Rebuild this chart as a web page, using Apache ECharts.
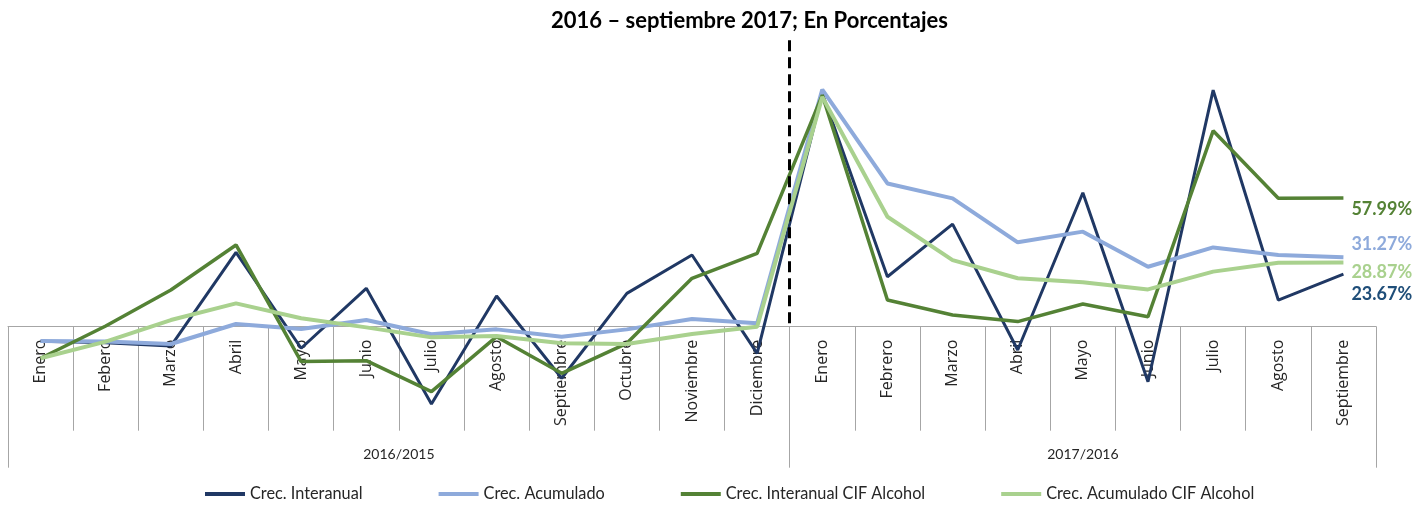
<!DOCTYPE html>
<html>
<head>
<meta charset="utf-8">
<script src="https://cdn.jsdelivr.net/npm/echarts@6/dist/echarts.min.js"></script>
<style>html,body{margin:0;padding:0;background:#fff}#c{width:1428px;height:510px}</style>
</head>
<body>
<div id="c"></div>
<script>
const titleText = '2016 \u2013 septiembre 2017; En Porcentajes';
const months = ['Enero','Febero','Marzo','Abril','Mayo','Junio','Julio','Agosto','Septiembre','Octubre','Noviembre','Diciembre',
                'Enero','Febrero','Marzo','Abril','Mayo','Junio','Julio','Agosto','Septiembre'];
const groups = ['2016/2015','2017/2016'];
const groupSizes = [12, 9];
const seriesNames = ['Crec. Interanual','Crec. Acumulado','Crec. Interanual CIF Alcohol','Crec. Acumulado CIF Alcohol'];

const interanual    = [-6.6,-7.2,-8.7,33.5,-9.7,17.3,-34.8,13.8,-23.2,15.0,32.3,-12.0, 105.0,22.5,46.2,-10.5,60.3,-24.8,106.5,12.0,23.67];
const acumulado     = [-6.4,-6.7,-7.8,1.2,-1.0,3.0,-3.4,-1.2,-4.5,-1.2,3.5,1.5, 106.8,64.5,57.8,38.0,42.8,27.0,35.7,32.3,31.27];
const interanualCIF = [-14.2,0.3,16.5,36.8,-15.7,-15.3,-29.2,-4.5,-21.0,-7.5,21.8,33.0, 104.3,12.0,5.3,2.3,10.2,4.5,88.2,57.8,57.99];
const acumuladoCIF  = [-14.2,-6.7,3.0,10.5,3.8,-0.3,-4.8,-4.2,-7.5,-7.8,-3.3,0.0, 103.5,49.5,30.0,21.8,20.0,16.8,24.8,28.8,28.87];

const lineColors  = ['#203864','#8eaadb','#548235','#a9d18e'];
const labelColors = ['#1f4e79','#8eaadb','#548235','#a9d18e'];
const lineWidths  = [3, 4, 3.5, 4];
const labelDy     = [20, -13, 11, 10];

// group boundaries and centres on a 0..N value scale
const bounds = [0];
groupSizes.forEach(s => bounds.push(bounds[bounds.length - 1] + s));
const centres = groupSizes.map((s, i) => bounds[i] + s / 2);
const sepAt = bounds[1];

const data = [interanual, acumulado, interanualCIF, acumuladoCIF];

const chart = echarts.init(document.getElementById('c'), null, {renderer: 'canvas'});
const series = data.map((d, i) => ({
  name: seriesNames[i],
  type: 'line',
  data: d,
  symbol: 'none',
  showSymbol: false,
  clip: false,
  z: 2 + i,
  lineStyle: {color: lineColors[i], width: lineWidths[i]},
  itemStyle: {color: lineColors[i]},
  endLabel: {
    show: true,
    distance: 8,
    offset: [0, labelDy[i]],
    formatter: p => Number(p.value).toFixed(2) + '%',
    color: labelColors[i],
    fontFamily: 'Lato',
    fontWeight: 'bold',
    fontSize: 18
  }
}));
series.push({
  name: 'sep',
  type: 'line',
  xAxisIndex: 1,
  data: [],
  silent: true,
  z: 10,
  markLine: {
    silent: true,
    symbol: ['none', 'none'],
    label: {show: false},
    lineStyle: {color: '#000', type: [11, 6], width: 3},
    data: [[{coord: [sepAt, 129]}, {coord: [sepAt, 0]}]]
  }
});

chart.setOption({
  animation: false,
  backgroundColor: '#fff',
  title: {
    text: titleText,
    left: 546,
    top: 5,
    textStyle: {fontFamily: 'Lato', fontWeight: 'bold', fontSize: 22, color: '#000'}
  },
  legend: {
    data: seriesNames,
    left: 205,
    top: 486,
    padding: 0,
    icon: 'rect',
    itemWidth: 40,
    itemHeight: 4,
    itemGap: 76,
    textStyle: {fontFamily: 'Lato', fontSize: 16.3, color: '#262626'}
  },
  grid: {left: 8, top: 38, width: 1368, height: 288.7, containLabel: false, outerBoundsMode: 'none'},
  xAxis: [{
    type: 'category',
    data: months,
    boundaryGap: true,
    axisLine: {show: true, onZero: false, lineStyle: {color: '#a6a6a6', width: 1}},
    axisTick: {show: true, interval: 0, length: 104, lineStyle: {color: '#a6a6a6', width: 1}},
    axisLabel: {interval: 0, rotate: 90, margin: 13, fontFamily: '"Open Sans"', fontSize: 16, color: '#262626'},
    splitLine: {show: false}
  }, {
    type: 'value',
    min: 0,
    max: months.length,
    position: 'bottom',
    axisLine: {show: false, onZero: false},
    axisTick: {show: true, customValues: bounds, length: 141, lineStyle: {color: '#a6a6a6', width: 1}},
    axisLabel: {
      show: true,
      customValues: centres,
      margin: 121,
      formatter: v => { const k = centres.indexOf(v); return k >= 0 ? groups[k] : ''; },
      fontFamily: 'Lato', fontSize: 14, color: '#262626'
    },
    splitLine: {show: false}
  }],
  yAxis: {
    type: 'value',
    min: 0,
    max: 130,
    show: false,
    splitLine: {show: false}
  },
  series: series
});
</script>
</body>
</html>
